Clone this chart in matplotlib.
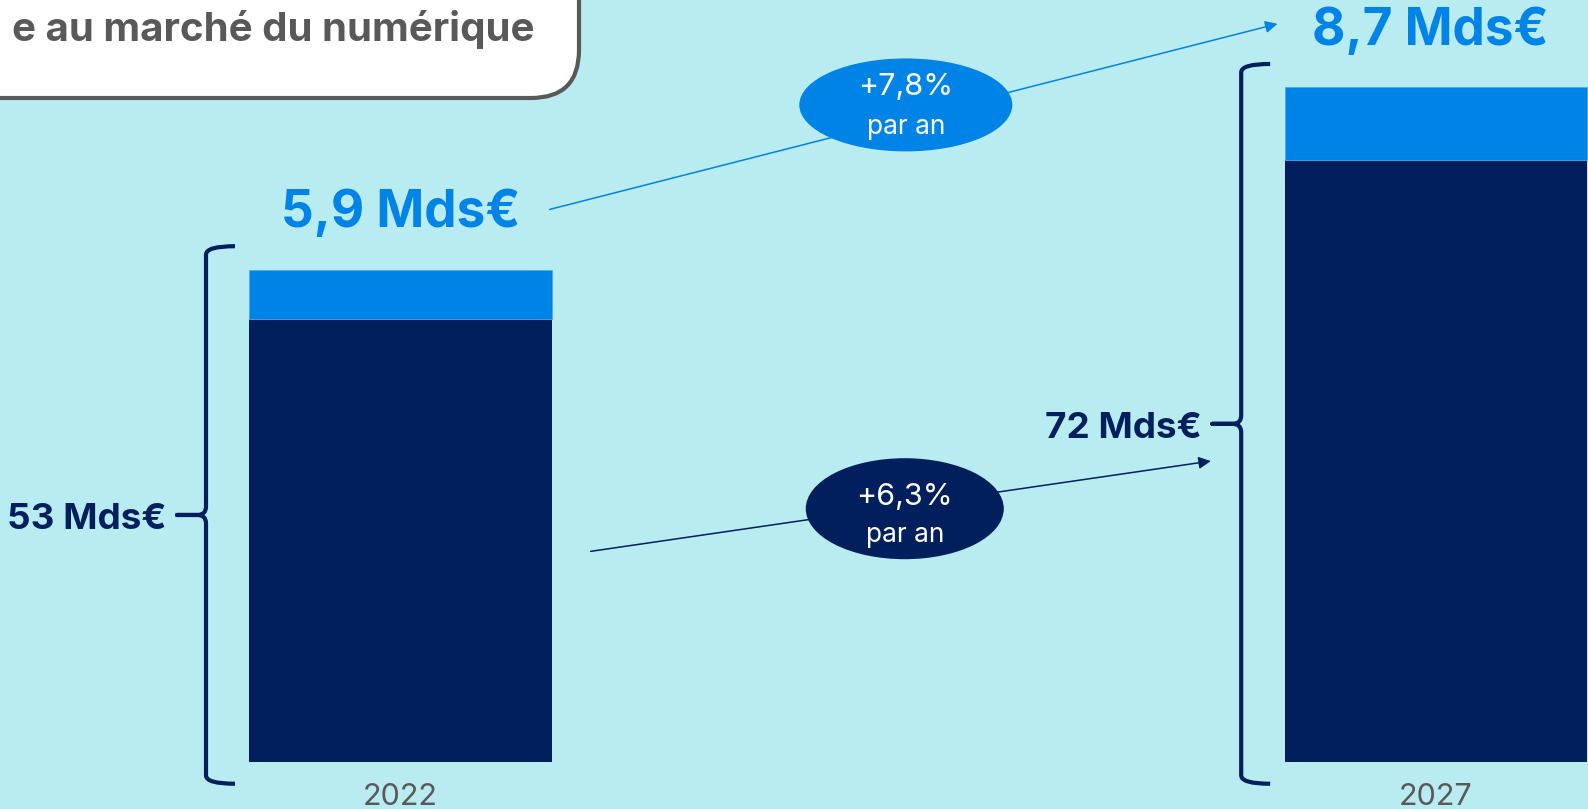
import matplotlib.pyplot as plt
from matplotlib.patches import Ellipse, FancyBboxPatch, PathPatch
from matplotlib.path import Path

# data (Mds€)
years = ["2022", "2027"]
marche_numerique = [53, 72]
cybersecurite = [5.9, 8.7]
croissance = ["+6,3%", "+7,8%"]   # numerique, cyber

BG = "#B9ECF0"
NAVY = "#001F5C"
BLUE = "#0083E6"
GREY = "#595959"

plt.rcParams['font.family'] = ['Inter', 'DejaVu Sans']


def mds(v):
    s = f"{v:.1f}" if v % 1 else f"{v:.0f}"
    return s.replace('.', ',') + " Mds€"


def brace(ax, x0, y0, y1, hook, tip, r, rt, color):
    ym = (y0 + y1) / 2
    bend = x0 + tip * 0.3
    verts = [(x0 + hook, y1), (x0, y1), (x0, y1 - r),
             (x0, ym + rt), (x0, ym), (bend, ym),
             (x0 + tip, ym), (bend, ym),
             (x0, ym), (x0, ym - rt),
             (x0, y0 + r), (x0, y0), (x0 + hook, y0)]
    codes = [Path.MOVETO, Path.CURVE3, Path.CURVE3,
             Path.LINETO, Path.CURVE3, Path.CURVE3,
             Path.LINETO, Path.LINETO,
             Path.CURVE3, Path.CURVE3,
             Path.LINETO, Path.CURVE3, Path.CURVE3]
    ax.add_patch(PathPatch(Path(verts, codes), fill=False, edgecolor=color,
                           lw=3.0, capstyle='butt', joinstyle='round'))
    return ym


fig = plt.figure(figsize=(15.88, 8.09), dpi=100)
fig.patch.set_facecolor(BG)
ax = fig.add_axes([0, 0, 1, 1])
ax.axis('off')

x = [0, 1]
width = 0.292
totals = [m + c for m, c in zip(marche_numerique, cybersecurite)]
ax.bar(x, marche_numerique, width, color=NAVY, linewidth=0)
ax.bar(x, cybersecurite, width, bottom=marche_numerique, color=BLUE,
       edgecolor="#4DA9EC", linewidth=0.6)
ax.set_xlim(-0.387, 1.147)
ax.set_ylim(-5.62, 91.15)

label_y = []
for xi, m, c, tot, yr in zip(x, marche_numerique, cybersecurite, totals, years):
    ax.text(xi, -4.2, yr, ha='center', va='center', color=GREY, fontsize=22)
    bx = xi - width / 2 - 0.042
    ym = brace(ax, bx, -2.6, tot + 2.8, 0.028, -0.028, 1.0, 1.0, NAVY)
    ax.text(bx - 0.038, ym - 0.6, mds(m), ha='right', va='center', color=NAVY,
            fontsize=26.5, fontweight='bold')
    ly = tot + 6.7
    label_y.append(ly)
    ax.text(xi - 0.005 * xi, ly, mds(c), ha='center', va='center', color=BLUE,
            fontsize=37, fontweight='bold')

# croissance arrows
ax.annotate("", xy=(0.847, label_y[1] + 0.9), xytext=(0.144, label_y[0] + 0.5),
            arrowprops=dict(arrowstyle='-|>', color=BLUE, lw=1.1,
                            mutation_scale=18, shrinkA=0, shrinkB=0))
ax.annotate("", xy=(0.7826, 36.0), xytext=(0.1836, 25.2),
            arrowprops=dict(arrowstyle='-|>', color=NAVY, lw=1.1,
                            mutation_scale=18, shrinkA=0, shrinkB=0))

ellipses = [(0.488, 78.6, 0.2058, 11.12, BLUE, croissance[1], 2.1, -2.6),
            (0.487, 30.3, 0.1913, 12.08, NAVY, croissance[0], 1.4, -3.1)]
for cx, cy, w, h, col, txt, up, down in ellipses:
    ax.add_patch(Ellipse((cx, cy), w, h, facecolor=col, edgecolor='none', zorder=3))
    ax.text(cx, cy + up, txt, ha='center', va='center', color='white',
            fontsize=22, zorder=4)
    ax.text(cx, cy + down, "par an", ha='center', va='center', color='white',
            fontsize=19, zorder=4)

# title box, cut by the figure edge
deco = fig.add_axes([0, 0, 1, 1], zorder=5)
deco.set_xlim(0, 1588)
deco.set_ylim(809, 0)
deco.axis('off')
deco.add_patch(FancyBboxPatch((-100, -100), 679, 198,
                              boxstyle="round,pad=0,rounding_size=48",
                              facecolor='white', edgecolor=GREY, lw=3))
deco.text(535, 29, "e au marché du numérique", ha='right', va='center',
          color=GREY, fontsize=29, fontweight='bold')

fig.savefig("out.png", dpi=100, facecolor=BG)
